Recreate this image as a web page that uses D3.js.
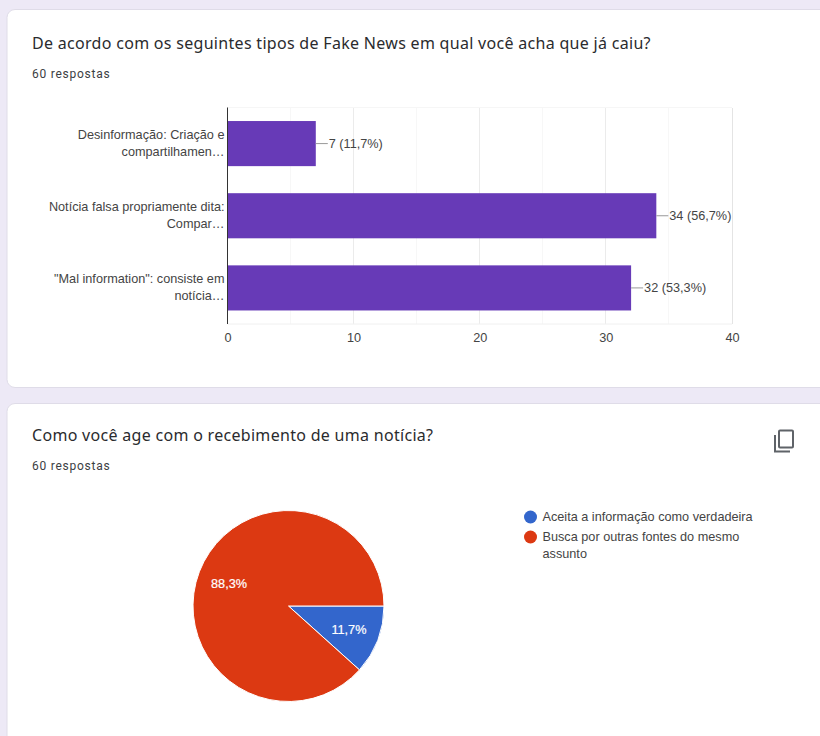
<!DOCTYPE html>
<html>
<head>
<meta charset="utf-8">
<script src="https://cdn.jsdelivr.net/npm/d3@7/dist/d3.min.js"></script>
<style>
  html, body { margin: 0; padding: 0; background: #ede9f6; overflow: hidden; }
  text { font-family: "Liberation Sans", Arial, sans-serif; }
</style>
</head>
<body>
<svg id="page" width="820" height="736"></svg>
<script>
// Bar chart: answers per type of fake news
const barLabels = [
  ["Desinformação: Criação e", "compartilhamen…"],
  ["Notícia falsa propriamente dita:", "Compar…"],
  ["\"Mal information\": consiste em", "notícia…"]
];
const barCategories = ["desinformacao", "noticia", "mal"];
const barValues = [7, 34, 32];
const barValueLabels = ["7 (11,7%)", "34 (56,7%)", "32 (53,3%)"];
const barTicks = [0, 10, 20, 30, 40];
const barGrid = [5, 10, 15, 20, 25, 30, 35, 40];

// Pie chart: reaction to receiving a news item
const pieLegendLines = [["Aceita a informação como verdadeira"], ["Busca por outras fontes do mesmo", "assunto"]];
const pieValues = [7, 53];
const pieLabels = ["11,7%", "88,3%"];
const pieColors = ["#3366cc", "#dc3912"];

const titles = ["De acordo com os seguintes tipos de Fake News em qual você acha que já caiu?",
                "Como você age com o recebimento de uma notícia?"];
const subtitle = "60 respostas";

const barColor = "#673ab7";
const textColor = "#444";
const labelSize = 12.7;

const svg = d3.select("#page");

// Response cards
function card(y, h) {
  svg.append("rect").attr("x", 7).attr("y", y).attr("width", 840).attr("height", h)
    .attr("rx", 8).attr("fill", "#fff").attr("stroke", "#dfdce8").attr("stroke-width", 1);
}
card(9.5, 378);
card(403.5, 360);

// Card headings
function heading(y, str) {
  svg.append("text").attr("x", 32).attr("y", y).attr("font-size", 16)
    .style("font-family", "'Noto Sans', sans-serif")
    .attr("letter-spacing", 0.3).attr("fill", "#2a2b2e").text(str);
}
function sub(y) {
  svg.append("text").attr("x", 32).attr("y", y).attr("font-size", 12)
    .style("font-family", "Roboto, sans-serif")
    .attr("letter-spacing", 0.75).attr("fill", "#3c4043").text(subtitle);
}
heading(49, titles[0]);
sub(78);
heading(441, titles[1]);
sub(470);

// Bar chart scales
const x = d3.scaleLinear().domain([0, 40]).range([227.5, 732]);
const y = d3.scaleBand().domain(barCategories).range([107.5, 324]).paddingInner(0.375).paddingOuter(0.1875);

const plot = svg.append("g");

// Gridlines: major every 10, minor in between
plot.selectAll("line.grid").data(barGrid).join("line")
  .attr("class", "grid")
  .attr("x1", d => x(d)).attr("x2", d => x(d))
  .attr("y1", 107.5).attr("y2", 324)
  .attr("shape-rendering", "crispEdges")
  .attr("stroke", d => d === 40 ? "#e4e4e4" : d % 10 === 0 ? "#ebebeb" : "#f7f7f7");
plot.append("line").attr("x1", 227.5).attr("x2", 732).attr("y1", 107.5).attr("y2", 107.5).attr("stroke", "#f6f6f6");
plot.append("line").attr("x1", 227.5).attr("x2", 732).attr("y1", 324).attr("y2", 324).attr("stroke", "#f0f0f0");

// Bars
plot.selectAll("rect.bar").data(barValues).join("rect")
  .attr("class", "bar")
  .attr("x", x(0))
  .attr("y", (d, i) => y(barCategories[i]))
  .attr("width", d => x(d) - x(0))
  .attr("height", y.bandwidth())
  .attr("fill", barColor);

// Leader lines and value labels
plot.selectAll("line.leader").data(barValues).join("line")
  .attr("class", "leader")
  .attr("x1", d => x(d)).attr("x2", d => x(d) + 12)
  .attr("y1", (d, i) => y(barCategories[i]) + y.bandwidth() / 2)
  .attr("y2", (d, i) => y(barCategories[i]) + y.bandwidth() / 2)
  .attr("stroke", "#999");
plot.selectAll("text.value").data(barValues).join("text")
  .attr("class", "value")
  .attr("x", d => x(d) + 13)
  .attr("y", (d, i) => y(barCategories[i]) + y.bandwidth() / 2 + 4.5)
  .attr("font-size", labelSize).attr("fill", textColor)
  .text((d, i) => barValueLabels[i]);

// Vertical baseline
plot.append("line").attr("x1", 227.5).attr("x2", 227.5).attr("y1", 107.5).attr("y2", 324)
  .attr("stroke", "#333");

// Axis tick labels through d3's axis
const xAxis = d3.axisBottom(x).tickValues(barTicks).tickSize(0).tickPadding(0).tickFormat(d3.format("d"));
const axisG = svg.append("g").attr("transform", "translate(0,333)").call(xAxis);
axisG.select(".domain").remove();
axisG.selectAll("text").attr("font-size", labelSize).attr("fill", textColor)
  .style("font-family", "'Liberation Sans', Arial, sans-serif");

// Category labels, two lines each
barLabels.forEach((lines, i) => {
  const cy = y(barCategories[i]) + y.bandwidth() / 2;
  lines.forEach((s, j) => {
    svg.append("text").attr("x", 224.5).attr("y", cy - 4.5 + j * 17)
      .attr("text-anchor", "end").attr("font-size", labelSize).attr("fill", textColor).text(s);
  });
});

// Pie chart, first slice starting at three o'clock and running clockwise
const pie = d3.pie().sort(null).startAngle(Math.PI / 2).endAngle(Math.PI * 2.5);
const arcs = pie(pieValues);
const radius = 95.5;
const arc = d3.arc().innerRadius(0).outerRadius(radius);
const labelArc = d3.arc().innerRadius(radius * 0.7).outerRadius(radius * 0.7);
const pieG = svg.append("g").attr("transform", "translate(288.5,606)");
pieG.selectAll("path").data(arcs).join("path")
  .attr("d", arc)
  .attr("fill", (d, i) => pieColors[i])
  .attr("stroke", "#fff").attr("stroke-width", 1);

const pieLabelPos = labelArc.centroid(arcs[0]);
pieG.append("text").attr("x", pieLabelPos[0] - 2).attr("y", pieLabelPos[1] + 4.5)
  .attr("text-anchor", "middle").attr("font-size", labelSize).attr("fill", "#fff")
  .attr("stroke", "#fff").attr("stroke-width", 0.2).text(pieLabels[0]);
pieG.append("text").attr("x", -59.5).attr("y", -18)
  .attr("text-anchor", "middle").attr("font-size", labelSize).attr("fill", "#fff")
  .attr("stroke", "#fff").attr("stroke-width", 0.2).text(pieLabels[1]);

// Legend
let legendY = 517;
pieLegendLines.forEach((lines, i) => {
  svg.append("circle").attr("cx", 530.5).attr("cy", legendY).attr("r", 6.5).attr("fill", pieColors[i]);
  lines.forEach((s, j) => {
    svg.append("text").attr("x", 542.5).attr("y", legendY + 3.8 + j * 17)
      .attr("font-size", labelSize).attr("fill", textColor).text(s);
  });
  legendY += 20;
});

// Copy icon at the corner of the second card
const icon = svg.append("g").attr("fill", "none").attr("stroke", "#5f6368").attr("stroke-width", 2);
icon.append("rect").attr("x", 779).attr("y", 430.5).attr("width", 14).attr("height", 17).attr("rx", 1);
icon.append("path").attr("d", d3.line()([[775, 435], [775, 451.5], [790, 451.5]]));
</script>
</body>
</html>
